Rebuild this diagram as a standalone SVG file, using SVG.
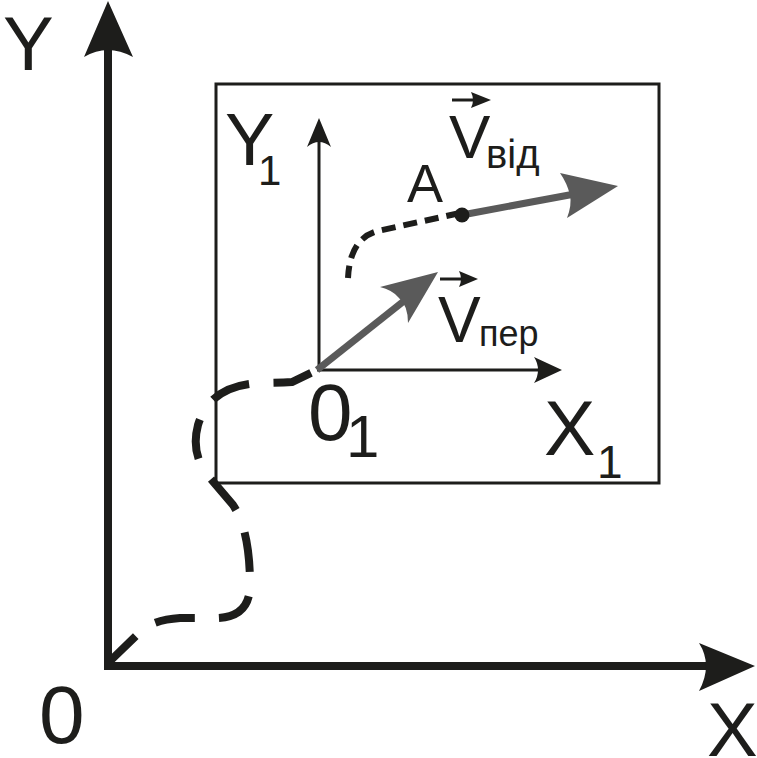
<svg xmlns="http://www.w3.org/2000/svg" width="757" height="758" viewBox="0 0 757 758">
<style>
text{font-family:"Liberation Sans",Arial,sans-serif;fill:#1d1d1b}
.ax{stroke:#1d1d1b;fill:none}
.head{fill:#1d1d1b;stroke:none}
.vec{stroke:#5a5a5a;stroke-width:7;fill:none}
.vhead{fill:#5a5a5a;stroke:none}
.dash{stroke:#1d1d1b;fill:none}
</style>
<rect width="757" height="758" fill="#fff"/>
<g id="frame">
<rect x="216" y="84" width="443" height="399" fill="none" stroke="#1d1d1b" stroke-width="3"/>
</g>
<g id="connectors">
<path class="dash" stroke-width="8" stroke-dasharray="40 24" d="M107 664 L138 634 Q150 620 180 618 L215 618 Q250 618 250 585 Q250 530 233 505 L210 478 Q190 455 198 425 Q210 385 260 383 Q280 383 292 382 L317 370"/>
<path class="dash" stroke-width="6" stroke-dasharray="14 8" d="M460 213 L378 231 Q350 238 348 278"/>
</g>
<g id="axis-Y">
<line class="ax" stroke-width="8" x1="108" y1="670" x2="108" y2="48"/>
<path class="head" d="M108 1 L133 57 Q120 50 108 50 Q96 50 84 57 Z"/>
<text x="3" y="70" font-size="76">Y</text>
</g>
<g id="axis-X">
<line class="ax" stroke-width="8" x1="104" y1="666" x2="708" y2="666"/>
<path class="head" d="M755 666 L699 691 Q706 678 706 666 Q706 654 699 643 Z"/>
<text x="707" y="756" font-size="76">X</text>
</g>
<g id="origin-0">
<text x="39" y="743" font-size="82">0</text>
</g>
<g id="axis-Y1">
<line class="ax" stroke-width="3" x1="319" y1="371" x2="319" y2="140"/>
<path class="head" d="M319 118 L331 147 Q325 142 319 142 Q313 142 307 147 Z"/>
<text x="225" y="165" font-size="74">Y</text>
<text x="258" y="185" font-size="42">1</text>
</g>
<g id="axis-X1">
<line class="ax" stroke-width="3" x1="317" y1="370" x2="540" y2="370"/>
<path class="head" d="M562 370 L534 383 Q538 377 538 370 Q538 363 534 357 Z"/>
<text x="544" y="455" font-size="77">X</text>
<text x="597" y="478" font-size="46">1</text>
</g>
<g id="origin-O1">
<text x="308" y="440" font-size="80">0</text>
<text x="346" y="457" font-size="60">1</text>
</g>
<g id="vector-Vper">
<line class="vec" x1="317" y1="370" x2="414" y2="293"/>
<path class="vhead" d="M438 272 L408 323 Q408 305 398 297 Q392 290 380 287 Z"/>
<line class="ax" stroke-width="3" x1="440" y1="279" x2="462" y2="279"/>
<path class="head" d="M478 279 L459 287 Q461 283 461 279 Q461 275 459 271 Z"/>
<text x="438" y="342" font-size="64">V</text>
<text x="479" y="346" font-size="36">пер</text>
</g>
<g id="point-A">
<line class="vec" x1="462" y1="215" x2="580" y2="193"/>
<path class="vhead" d="M618 186 L567 218 Q572 205 570 195 Q567 183 560 173 Z"/>
<circle cx="462" cy="215" r="7.5" fill="#1d1d1b"/>
<text x="407" y="202" font-size="54">A</text>
</g>
<g id="vector-Vvid">
<line class="ax" stroke-width="3" x1="452" y1="100" x2="474" y2="100"/>
<path class="head" d="M491 100 L471 108 Q473 104 473 100 Q473 96 471 92 Z"/>
<text x="449" y="158" font-size="62">V</text>
<text x="486" y="168" font-size="40">від</text>
</g>
</svg>
